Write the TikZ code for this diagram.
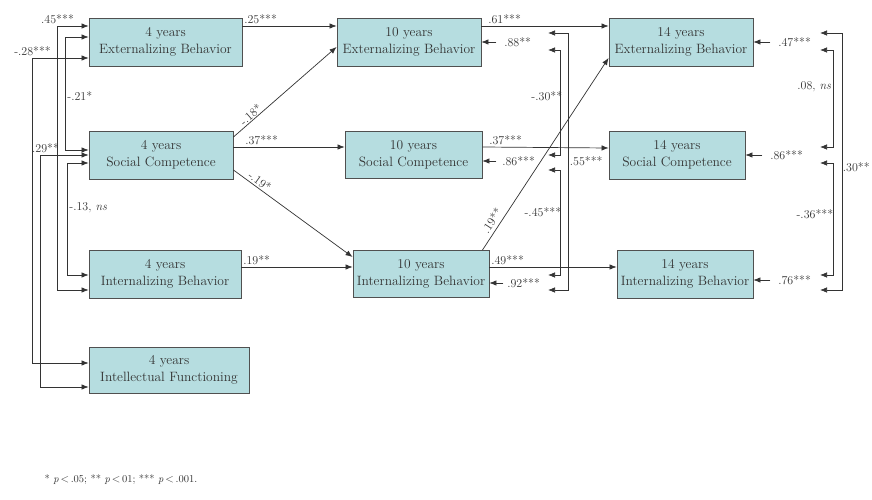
\documentclass[tikz,border=0pt]{standalone}
\usepackage{tikz}
\usepackage{xcolor}
\usetikzlibrary{arrows.meta,positioning,calc}
\definecolor{boxfill} {HTML}{B6DDE0}
\definecolor{boxline} {HTML}{505050}
\definecolor{ink}     {HTML}{333333}

\begin{document}
\begin{tikzpicture}[x=1pt,y=-1pt,
    varbox/.style={draw=boxline,line width=0.9pt,fill=boxfill,align=center,
                   inner sep=0pt,text=ink,font=\fontsize{13.5}{17}\selectfont},
    effect/.style={draw=ink,line width=0.7pt,-{Latex[length=7pt,width=5.5pt]}},
    corr/.style={draw=ink,line width=0.7pt,
                 {Latex[length=7pt,width=5.5pt]}-{Latex[length=7pt,width=5.5pt]}},
    coef/.style={text=ink,inner sep=1.5pt,font=\fontsize{12}{14}\selectfont}]
  \path[use as bounding box,fill=white] (0,0) rectangle (872,500);

  \node[varbox,minimum width=153pt,minimum height=48pt] (e4)  at (165.5,42) {4 years\\Externalizing Behavior};
  \node[varbox,minimum width=144pt,minimum height=48pt] (s4)  at (161,155)  {4 years\\Social Competence};
  \node[varbox,minimum width=152pt,minimum height=48pt] (i4)  at (165,274)  {4 years\\Internalizing Behavior};
  \node[varbox,minimum width=160pt,minimum height=46pt] (f4)  at (169,370)  {4 years\\Intellectual Functioning};
  \node[varbox,minimum width=144pt,minimum height=48pt] (e10) at (409,42)   {10 years\\Externalizing Behavior};
  \node[varbox,minimum width=137pt,minimum height=47pt] (s10) at (413.5,155) {10 years\\Social Competence};
  \node[varbox,minimum width=136pt,minimum height=47pt] (i10) at (421,274)  {10 years\\Internalizing Behavior};
  \node[varbox,minimum width=144pt,minimum height=48pt] (e14) at (681,42)   {14 years\\Externalizing Behavior};
  \node[varbox,minimum width=136pt,minimum height=48pt] (s14) at (677,155)  {14 years\\Social Competence};
  \node[varbox,minimum width=136pt,minimum height=48pt] (i14) at (685,274)  {14 years\\Internalizing Behavior};

  \draw[effect] ([yshift=16pt]e4.east) -- node[coef,pos=0,above right]{.25***} ([yshift=16pt]e10.west);
  \draw[effect] ([yshift=18pt]s4.east) -- node[coef,sloped,above,pos=0.2,inner sep=0.5pt]{-.18*} ([yshift=-5pt]e10.west);
  \draw[effect] ([yshift=8pt]s4.east) -- node[coef,pos=0.09,above right]{.37***} ([yshift=8pt]s10.west);
  \draw[effect] ([yshift=-15pt]s4.east) -- node[coef,sloped,above,pos=0.19]{-.19*} ([yshift=17pt]i10.west);
  \draw[effect] ([yshift=7pt]i4.east) -- node[coef,pos=0,above right]{.19**} ([yshift=7pt]i10.west);
  \draw[effect] ([yshift=16pt]e10.east) -- node[coef,pos=0,above right,xshift=5pt]{.61***} ([yshift=16pt]e14.west);
  \draw[effect] ([yshift=8pt]s10.east) -- node[coef,pos=0,above right,xshift=5pt]{.37***} ([yshift=7pt]s14.west);
  \draw[effect] ([xshift=-7pt]i10.north east) -- node[coef,sloped,above=2pt,pos=0.13]{.19**} ([yshift=-16pt]e14.west);
  \draw[effect] ([yshift=7pt]i10.east) -- node[coef,pos=0,above right]{.49***} ([yshift=7pt]i14.west);

  \draw[corr] ([yshift=16pt]e4.west) -- ++(-31,0) node[coef,above]{.45***} |- ([yshift=-16pt]i4.west);
  \draw[corr] ([yshift=5pt]e4.west) -- ++(-23,0) |- node[coef,pos=0.26,right]{-.21*} ([yshift=5pt]s4.west);
  \draw[corr] ([yshift=-16pt]e4.west) -- ++(-56,0) node[coef,above]{-.28***} |- ([yshift=7pt]f4.west);
  \draw[corr] (s4.west) -- ++(-48,0) node[coef,above,xshift=5pt]{.29**} |- ([yshift=-17pt]f4.west);
  \draw[corr] ([yshift=-8pt]s4.west) -- ++(-21,0) |- node[coef,pos=0.2,right]{-.13, \textit{ns}} ([yshift=-1pt]i4.west);

  \coordinate (ra) at (548,33);
  \coordinate (rb) at (548,50);
  \coordinate (rc) at (548,155);
  \coordinate (rd) at (548,170);
  \coordinate (re) at (548,275);
  \coordinate (rf) at (548,290);
  \draw[corr] (rb) -- ++(12,0) |- node[coef,pos=0.22,left,xshift=4pt]{-.30**} (rc);
  \draw[corr] (ra) -- ++(20,0) |- node[coef,pos=0.25,right]{.55***} (rf);
  \draw[corr] (rd) -- ++(12,0) |- node[coef,pos=0.2,left,xshift=3pt]{-.45***} (re);

  \coordinate (sa) at (820,33);
  \coordinate (sb) at (820,50);
  \coordinate (sc) at (820,147);
  \coordinate (sd) at (820,163);
  \coordinate (se) at (820,275);
  \coordinate (sf) at (820,290);
  \draw[corr] (sb) -- ++(13,0) |- node[coef,pos=0.19,left]{.08, \textit{ns}} (sc);
  \draw[corr] (sd) -- ++(13,0) |- node[coef,pos=0.23,left,xshift=2pt]{-.36***} (se);
  \draw[corr] (sa) -- ++(22,0) |- node[coef,pos=0.26,right,inner sep=0.5pt]{.30**} (sf);

  \draw[effect] ([xshift=15pt]e10.east) node[coef,right,xshift=6pt]{.88**} -- (e10.east);
  \draw[effect] ([xshift=14pt,yshift=-6pt]s10.east) node[coef,right,xshift=4pt]{.86***} -- ([yshift=-6pt]s10.east);
  \draw[effect] ([xshift=14pt,yshift=-9pt]i10.east) node[coef,right,xshift=2pt]{.92***} -- ([yshift=-9pt]i10.east);
  \draw[effect] ([xshift=17pt]e14.east) node[coef,right,xshift=6pt]{.47***} -- (e14.east);
  \draw[effect] ([xshift=17pt]s14.east) node[coef,right,xshift=6pt]{.86***} -- (s14.east);
  \draw[effect] ([xshift=17pt,yshift=-6pt]i14.east) node[coef,right,xshift=6pt]{.76***} -- ([yshift=-6pt]i14.east);

  \node[coef,anchor=west,font=\fontsize{10.5}{12}\selectfont] (note) at (43,480)
    {* \textit{p}\,$<$\,.05; ** \textit{p}\,$<$\,01; *** \textit{p}\,$<$\,.001.};
\end{tikzpicture}
\end{document}
